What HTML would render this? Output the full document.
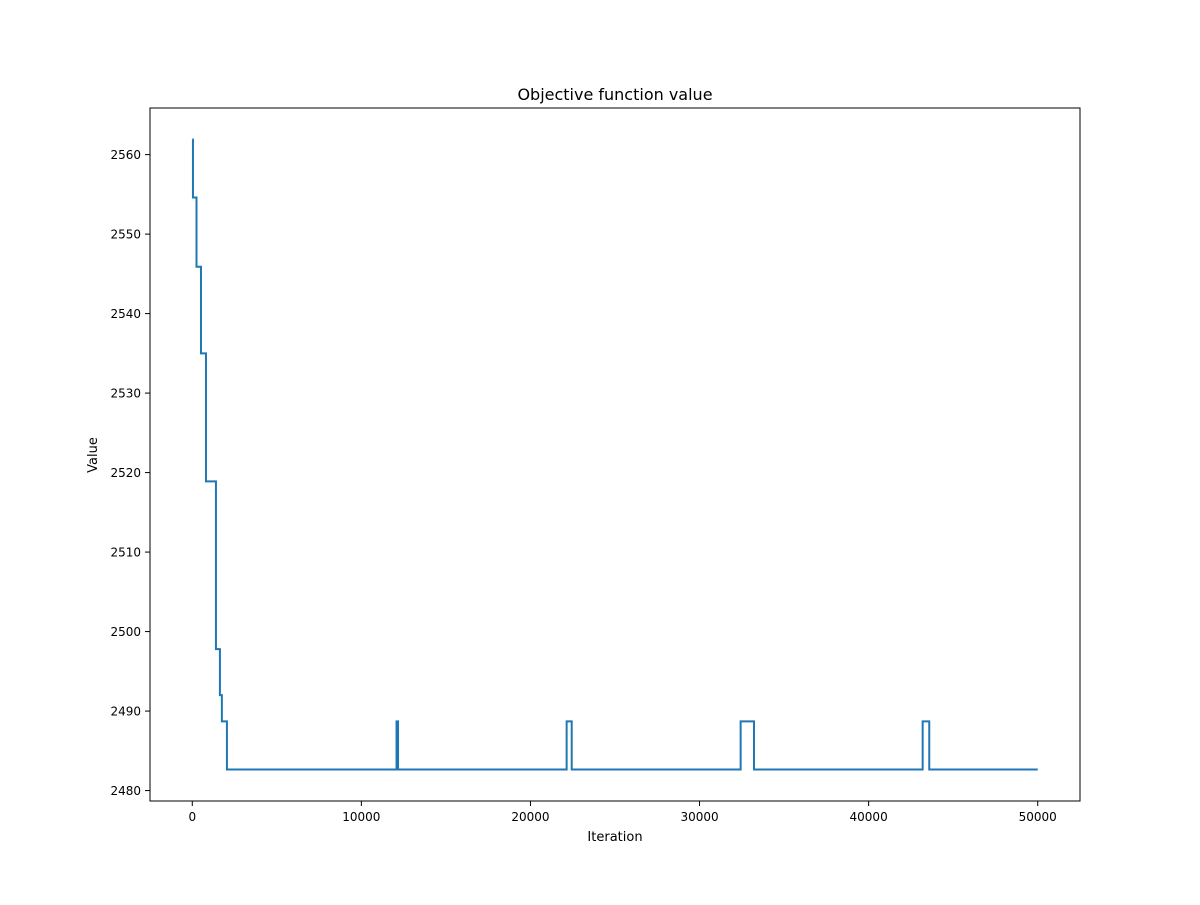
<!DOCTYPE html>
<html><head><meta charset="utf-8"><style>
body{margin:0;background:#fff;font-family:"Liberation Sans","DejaVu Sans",sans-serif}
text{font-family:"DejaVu Sans","Liberation Sans",sans-serif;fill:#000}
</style></head><body>
<svg id="chart" width="1200" height="900" xmlns="http://www.w3.org/2000/svg">
<rect width="1200" height="900" fill="#fff"/>
<text x="615" y="100" font-size="16" text-anchor="middle">Objective function value</text>
<text x="615" y="841" font-size="13" text-anchor="middle">Iteration</text>
<text transform="translate(97,455) rotate(-90)" font-size="13" text-anchor="middle">Value</text>
<g id="ticks"></g>
<path id="line" fill="none" stroke="#1f77b4" stroke-width="2" stroke-linejoin="miter"/>
<rect x="150" y="108" width="930" height="693" fill="none" stroke="#000" stroke-width="1"/>
</svg>
<script>
const stepIters = [0, 40, 250, 515, 810, 1400, 1635, 1750, 2050, 12080, 12170, 22140, 22440, 32430, 33220, 43195, 43585, 50000];
const stepValues = [2561.9, 2554.6, 2545.9, 2535.0, 2518.9, 2497.8, 2492.0, 2488.7, 2482.65, 2488.7, 2482.65, 2488.7, 2482.65, 2488.7, 2482.65, 2488.7, 2482.65, 2482.65];
const xTicks = [0, 10000, 20000, 30000, 40000, 50000];
const yTicks = [2480, 2490, 2500, 2510, 2520, 2530, 2540, 2550, 2560];
const X0=150,X1=1080,Y0=108,Y1=801;
const xmin=-2500,xmax=52500;
const dmin=Math.min(...stepValues),dmax=Math.max(...stepValues),m=(dmax-dmin)*0.05;
const ymin=dmin-m,ymax=dmax+m;
const sx=v=>X0+(v-xmin)/(xmax-xmin)*(X1-X0);
const sy=v=>Y1-(v-ymin)/(ymax-ymin)*(Y1-Y0);
let d='M'+sx(stepIters[0])+','+sy(stepValues[0]);
for(let i=1;i<stepIters.length;i++){d+=' H'+sx(stepIters[i])+' V'+sy(stepValues[i]);}
document.getElementById('line').setAttribute('d',d);
const g=document.getElementById('ticks');const NS='http://www.w3.org/2000/svg';
xTicks.forEach(t=>{const x=sx(t);
const l=document.createElementNS(NS,'line');l.setAttribute('x1',x);l.setAttribute('x2',x);l.setAttribute('y1',Y1);l.setAttribute('y2',Y1+5);l.setAttribute('stroke','#000');

g.appendChild(l);
const tx=document.createElementNS(NS,'text');tx.setAttribute('x',x);tx.setAttribute('y',Y1+20);tx.setAttribute('font-size','12');tx.setAttribute('text-anchor','middle');tx.textContent=t;

g.appendChild(tx);});
yTicks.forEach(t=>{const y=sy(t);
const l=document.createElementNS(NS,'line');l.setAttribute('x1',X0-5);l.setAttribute('x2',X0);l.setAttribute('y1',y);l.setAttribute('y2',y);l.setAttribute('stroke','#000');

g.appendChild(l);
const tx=document.createElementNS(NS,'text');tx.setAttribute('x',X0-9);tx.setAttribute('y',y+4.5);tx.setAttribute('font-size','12');tx.setAttribute('text-anchor','end');tx.textContent=t;

g.appendChild(tx);});
</script>
</body></html>
